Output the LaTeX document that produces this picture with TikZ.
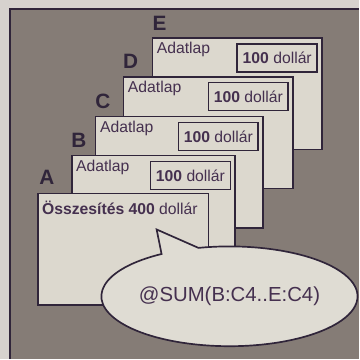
\documentclass[tikz,border=0pt]{standalone}
\usepackage{fontspec}
\setmainfont{Liberation Sans}
\usepackage{tikz}
\usetikzlibrary{calc,shapes.callouts}

\definecolor{paper}{HTML}{D6D2CE}
\definecolor{panel}{HTML}{857C76}
\definecolor{sheetfill}{HTML}{DCD8CE}
\definecolor{ink}{HTML}{30253A}
\definecolor{textink}{HTML}{45304F}

\tikzset{
  sheet/.style={draw=ink, fill=sheetfill, line width=1.2pt, anchor=north west,
    minimum height=2.8cm, inner sep=0pt},
  lettertag/.style={font=\bfseries\fontsize{14.8}{16}\selectfont, text=ink, inner sep=0pt},
  sheettitle/.style={font=\fontsize{11.2}{13}\selectfont, text=textink, inner sep=0pt, anchor=west},
  amount/.style={draw=ink, line width=1.2pt, anchor=north east, minimum width=2cm,
    minimum height=0.7cm, inner sep=0pt, font=\fontsize{11.2}{13}\selectfont, text=textink},
  bubble/.style={ellipse callout, draw=ink, fill=sheetfill!90!white, line width=1.2pt,
    minimum width=5.1cm, minimum height=2.5cm, inner sep=0pt, callout pointer arc=18,
    font=\fontsize{14.5}{16}\selectfont, text=textink}
}

\begin{document}
\begin{tikzpicture}[x=0.025cm, y=-0.025cm]
	\fill[paper] (0,0) rectangle (360,360);
	\fill[panel] (10,9) rectangle (360,360);
	\draw[ink, line width=1.2pt] (10,360) -- (10,9) -- (360,9);
	\useasboundingbox (0,0) rectangle (360,360);
	% back sheets, E first
	\foreach \n/\x/\y/\w in {E/152/37/4.25cm,D/123/76/4.25cm,C/95/116/4.2cm,B/71/155/4.1cm} {
		\node[sheet, minimum width=\w] (\n) at (\x,\y) {};
		\node[lettertag] (\n-tag) at ($(\n.north west)+(8,-14)$) {\n};
		\node[sheettitle] (\n-title) at ($(\n.north west)+(5,13)$) {Adatlap};
		\node[amount] (\n-sum) at ($(\n.north east)+(-5,6)$) {\textbf{100} dollár};
	}
	% front sheet
	\node[sheet, minimum width=4.275cm] (A) at (37,193) {};
	\node[lettertag] (A-tag) at ($(A.north west)+(10,-15)$) {A};
	\node[sheettitle] (A-title) at ($(A.north west)+(5,15)$) {\textbf{Összesítés 400} dollár};
	\node[bubble, callout absolute pointer={(157,230)}] (formula) at (230,297) {\raisebox{-3pt}{@SUM(B:C4..E:C4)}};
\end{tikzpicture}
\end{document}
